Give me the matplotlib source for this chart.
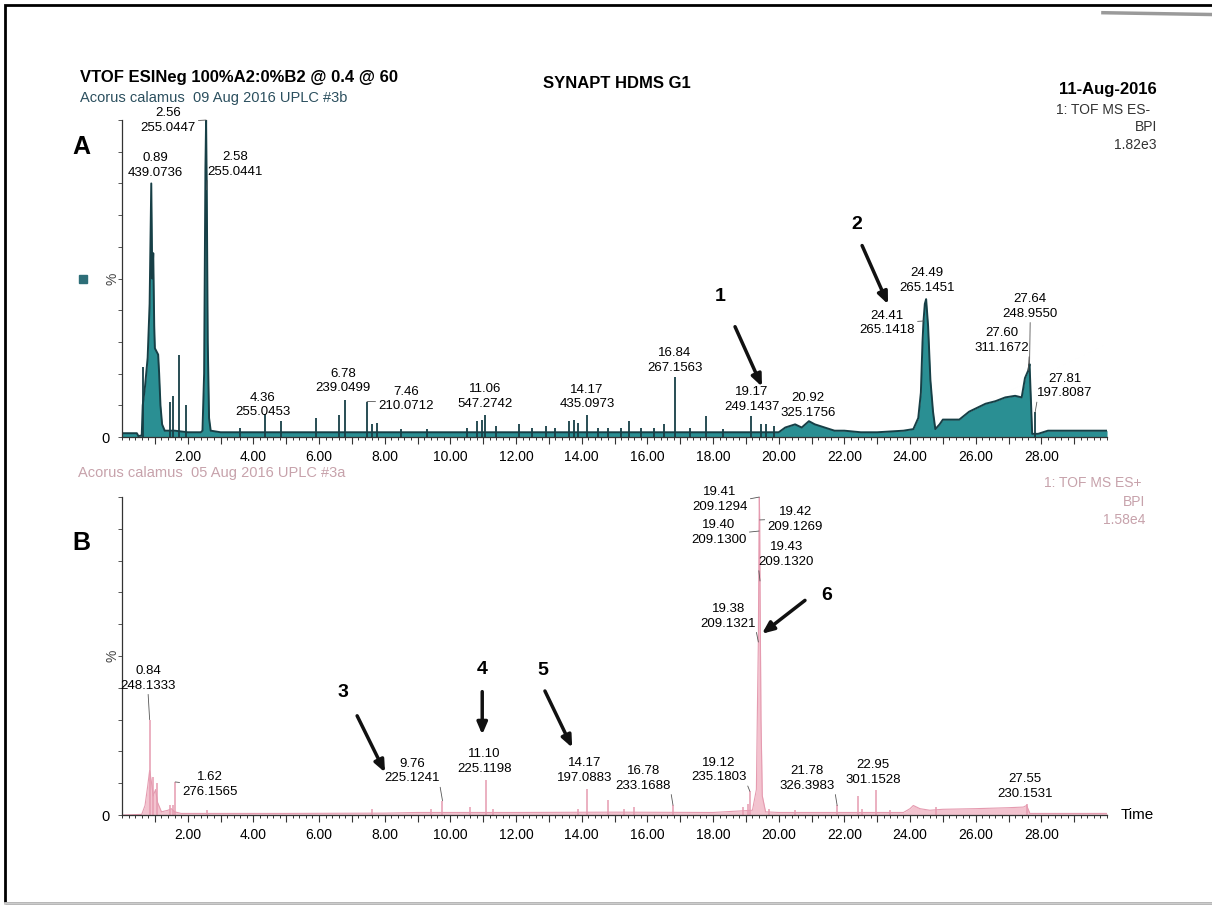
#Cromatogramas UPLC-MS de Acorus calamus (modo negativo A, modo positivo B)

import numpy as np
import matplotlib.pyplot as plt
from matplotlib.patches import Rectangle

plt.rcParams['font.family'] = ['Liberation Sans', 'DejaVu Sans']

#Datos leídos del cromatograma
#Panel A: envolvente (tiempo en min, intensidad en %)
A_env_t = [0.00, 0.45, 0.50, 0.60, 0.63, 0.70, 0.78, 0.84, 0.89, 0.92, 0.95, 0.98, 1.00, 1.05,
           1.10, 1.13, 1.17, 1.22, 1.30, 1.60, 2.00, 2.40, 2.45, 2.50, 2.54, 2.56, 2.58, 2.61,
           2.65, 2.70, 3.00, 6.00, 10.00, 14.00, 18.00, 20.00, 20.20, 20.50, 20.70, 20.92, 21.10,
           21.40, 21.70, 22.00, 22.50, 23.00, 23.80, 24.10, 24.25, 24.33, 24.38, 24.41, 24.45,
           24.49, 24.55, 24.62, 24.70, 24.77, 24.90, 25.00, 25.30, 25.50, 25.80, 26.00, 26.30,
           26.60, 26.90, 27.20, 27.40, 27.50, 27.60, 27.64, 27.68, 27.72, 27.90, 28.20, 29.00, 30.00]
A_env_h = [1.2, 1.2, 0.3, 0.5, 10, 16, 25, 42, 80, 50, 58, 35, 28, 27,
           26, 20, 10, 4, 2, 2, 1.5, 1.5, 2, 20, 85, 100, 78, 30,
           6, 2, 1.5, 1.5, 1.5, 1.5, 1.5, 1.5, 3, 4, 3, 5, 4,
           3, 2, 2, 1.5, 1.5, 2, 2.5, 6, 14, 30, 36.6, 42,
           43.5, 35, 18, 8, 2.5, 4, 5.5, 5.5, 5.5, 8, 9, 10.5,
           11.3, 12.5, 13, 12.5, 18.6, 21, 23, 12, 1, 1, 2, 2, 2]

#Panel A: picos estrechos (tiempo, %)
A_spk_t = [0.65, 1.47, 1.55, 1.74, 1.95, 3.60, 4.36, 4.85, 5.90, 6.60, 6.78, 7.46, 7.62, 7.75,
           8.50, 9.30, 10.50, 10.80, 10.95, 11.06, 11.40, 12.10, 12.50, 12.90, 13.20, 13.60,
           13.75, 13.90, 14.17, 14.50, 14.80, 15.20, 15.45, 15.80, 16.20, 16.50, 16.84, 17.30,
           17.80, 18.30, 19.17, 19.45, 19.60, 19.85, 27.81]
A_spk_h = [22, 11, 13, 26, 10, 3, 7.4, 5, 6, 7, 11.7, 11.2, 4, 4.5,
           2.5, 2.5, 3, 5, 5.5, 7.1, 3.5, 4, 3, 3.5, 3, 5,
           5.5, 4.5, 6.8, 3, 3, 3, 5, 3, 3, 4, 19, 3,
           6.5, 2.5, 6.7, 4, 4, 3.5, 7.8]

#Panel A: etiquetas (tiempo de retención, m/z, altura del punto marcado)
A_lab_rt = ['2.56', '0.89', '2.58', '4.36', '6.78', '7.46', '11.06', '14.17', '16.84',
            '19.17', '20.92', '24.41', '24.49', '27.64', '27.60', '27.81']
A_lab_mz = ['255.0447', '439.0736', '255.0441', '255.0453', '239.0499', '210.0712', '547.2742',
            '435.0973', '267.1563', '249.1437', '325.1756', '265.1418', '265.1451', '248.9550',
            '311.1672', '197.8087']
A_lab_h = [100, 80, 78, 7.4, 11.7, 11.2, 7.1, 6.8, 19, 6.7, 5, 36.6, 43.5, 23, 21, 7.8]

#Panel B: envolvente (tiempo, %)
B_env_t = [0.00, 0.60, 0.70, 0.78, 0.84, 0.90, 0.95, 1.02, 1.08, 1.20, 1.40, 1.50, 1.60, 1.80,
           5.00, 8.00, 9.00, 12.00, 15.00, 18.00, 19.20, 19.32, 19.36, 19.38, 19.40, 19.41,
           19.42, 19.43, 19.46, 19.50, 19.60, 20.00, 23.80, 24.00, 24.10, 24.30, 24.60, 25.00,
           26.00, 27.00, 27.45, 27.55, 27.65, 28.00, 30.00]
B_env_h = [0, 0.2, 3, 9, 14, 10, 6, 8, 4, 1, 1.5, 2, 1, 0.5,
           0.5, 0.6, 0.8, 0.8, 0.9, 0.8, 1.5, 8, 40, 54.4, 89.3, 100,
           92.8, 73.6, 30, 6, 1, 0.8, 0.8, 2, 3, 2, 1.5, 1.8,
           2, 2.3, 2.5, 3, 0.5, 0.5, 0.5]

#Panel B: picos estrechos (tiempo, %)
B_spk_t = [0.84, 0.95, 1.05, 1.45, 1.55, 1.62, 2.60, 7.60, 9.40, 9.76, 10.60, 11.10, 11.30,
           13.90, 14.17, 14.80, 15.30, 15.60, 16.78, 18.90, 19.05, 19.12, 19.70, 20.50, 21.78,
           22.40, 22.55, 22.95, 23.40, 24.80, 27.55]
B_spk_h = [30, 12, 10, 3, 3, 10.4, 1.5, 2, 2, 4.5, 2.5, 11, 2,
           2, 8.3, 4.7, 2, 2.5, 3.1, 2.5, 3.5, 7.5, 2, 1.5, 3,
           6, 2, 7.9, 1.5, 2.5, 3.6]

#Panel B: etiquetas
B_lab_rt = ['0.84', '1.62', '9.76', '11.10', '14.17', '16.78', '19.12', '19.41', '19.42',
            '19.40', '19.43', '19.38', '21.78', '22.95', '27.55']
B_lab_mz = ['248.1333', '276.1565', '225.1241', '225.1198', '197.0883', '233.1688', '235.1803',
            '209.1294', '209.1269', '209.1300', '209.1320', '209.1321', '326.3983', '301.1528',
            '230.1531']
B_lab_h = [30, 10.4, 4.5, 11, 8.3, 3.1, 7.5, 100, 92.8, 89.3, 73.6, 54.4, 3, 7.9, 3.6]

#Marcas del eje de tiempo
time_ticks = list(range(1, 30))
time_labels = [f"{v:.2f}" if v % 2 == 0 else "" for v in time_ticks]

#Posición de las etiquetas (centro del texto, en coordenadas de datos) y guía
A_lab_pos = [(1.40, 99.8), (1.00, 85.7), (3.44, 86.0), (4.29, 10.1), (6.73, 17.7), (8.65, 12.0),
             (11.06, 12.8), (14.16, 12.6), (16.84, 24.1), (19.19, 11.9), (20.90, 9.9),
             (23.30, 36.0), (24.52, 49.4), (27.66, 41.2), (26.80, 30.4), (28.72, 16.1)]
A_lab_rel = [(1, 0.5), None, (0, 0), None, None, (0, 0.4), None, None, None, None, None,
             (1, 0.55), None, (0.5, 0), (1, 0), (0, 0)]
B_lab_pos = [(0.79, 43.0), (2.68, 9.7), (8.83, 13.8), (11.03, 16.8), (14.10, 14.0), (15.87, 11.5),
             (18.18, 14.2), (18.21, 99.3), (20.50, 92.9), (18.18, 88.9), (20.23, 81.9),
             (18.46, 62.5), (20.87, 11.5), (22.87, 13.3), (27.50, 9.0)]
B_lab_rel = [(0.5, 0), (0, 0.55), (1, 0), None, None, (1, 0), (1, 0), (1, 0.5), (0, 0.5),
             (1, 0.5), (0, 0), (1, 0), (1, 0), None, None]

#Colores
teal_fill = '#2a8f93'
teal_line = '#173f46'
pink_fill = '#f3c3cf'
pink_line = '#e59bb0'
pink_text = '#c7a2ab'

fig = plt.figure(figsize=(12.12, 9.08), dpi=100)
axA = fig.add_axes([0.1007, 0.5187, 0.8127, 0.3491])
axB = fig.add_axes([0.1007, 0.1024, 0.8127, 0.3502])


def estilo_eje(ax):
    ax.set_xlim(0, 30)
    ax.set_ylim(0, 100)
    for s in ['top', 'right']:
        ax.spines[s].set_visible(False)
    for s in ['left', 'bottom']:
        ax.spines[s].set_linewidth(0.9)
        ax.spines[s].set_color('#333333')
    ax.set_xticks(time_ticks)
    ax.set_xticklabels(time_labels, fontsize=10)
    ax.set_xticks(np.arange(0, 30.01, 0.2), minor=True)
    ax.set_yticks(range(0, 101, 10))
    ax.set_yticklabels(['0'] + [''] * 10, fontsize=10.5)
    ax.tick_params(axis='x', which='major', length=5, width=0.8, pad=4, color='#333333')
    ax.tick_params(axis='x', which='minor', length=2.5, width=0.7, color='#333333')
    ax.tick_params(axis='y', length=3, width=0.7, pad=6, color='#555555')
    ax.text(-0.01, 0.5, '%', transform=ax.transAxes, rotation=90, fontsize=10,
            ha='center', va='center', color='#444444')


def etiquetas(ax, rts, mzs, hs, pos, rel):
    for rt, mz, h, p, r in zip(rts, mzs, hs, pos, rel):
        props = None
        if r is not None:
            props = dict(arrowstyle='-', lw=0.6, color='#555555', relpos=r, shrinkA=0, shrinkB=0)
        ax.annotate(f"{rt}\n{mz}", xy=(float(rt), h), xytext=p, textcoords='data',
                    ha='center', va='center', fontsize=9.5, linespacing=1.3,
                    arrowprops=props, annotation_clip=False)


def flecha(ax, num, tip, tail, pos_num):
    ax.annotate('', xy=tip, xytext=tail,
                arrowprops=dict(arrowstyle='-|>,head_length=0.7,head_width=0.3', lw=2.5,
                                color='#111111', shrinkA=0, shrinkB=0),
                annotation_clip=False)
    ax.text(pos_num[0], pos_num[1], num, fontsize=14, fontweight='bold', ha='center',
            va='center', clip_on=False)


#Panel A
estilo_eje(axA)
axA.fill_between(A_env_t, A_env_h, color=teal_fill, lw=0)
axA.plot(A_env_t, A_env_h, color=teal_line, lw=1.4)
axA.vlines(A_spk_t, 0, A_spk_h, color=teal_line, lw=1.3)
etiquetas(axA, A_lab_rt, A_lab_mz, A_lab_h, A_lab_pos, A_lab_rel)
flecha(axA, '1', (19.49, 15.9), (18.67, 34.8), (18.21, 44.2))
flecha(axA, '2', (23.33, 41.9), (22.54, 60.4), (22.39, 67.0))
axA.plot([-0.04], [0.5], marker='s', ms=6, color='#2d6e78', transform=axA.transAxes,
         clip_on=False)

#Panel B
estilo_eje(axB)
axB.fill_between(B_env_t, B_env_h, color=pink_fill, lw=0)
axB.plot(B_env_t, B_env_h, color=pink_line, lw=0.8)
axB.vlines(B_spk_t, 0, B_spk_h, color=pink_line, lw=1.1)
etiquetas(axB, B_lab_rt, B_lab_mz, B_lab_h, B_lab_pos, B_lab_rel)
flecha(axB, '3', (8.01, 13.4), (7.16, 31.2), (6.73, 38.4))
flecha(axB, '4', (10.97, 25.3), (10.97, 38.8), (10.97, 45.8))
flecha(axB, '5', (13.71, 21.2), (12.88, 39.0), (12.82, 45.3))
flecha(axB, '6', (19.49, 57.0), (20.80, 67.5), (21.47, 69.1))
axB.text(30.4, 0, 'Time', fontsize=11, ha='left', va='center', clip_on=False)

#Encabezados
fig.text(0.066, 0.915, 'VTOF ESINeg 100%A2:0%B2 @ 0.4 @ 60', fontsize=12, fontweight='bold',
         ha='left', va='center')
fig.text(0.066, 0.892, 'Acorus calamus  09 Aug 2016 UPLC #3b', fontsize=10.5, color='#2b4f5e',
         ha='left', va='center')
fig.text(0.509, 0.9075, 'SYNAPT HDMS G1', fontsize=12, fontweight='bold', ha='center',
         va='center')
fig.text(0.9546, 0.901, '11-Aug-2016', fontsize=12, fontweight='bold', ha='right', va='center')
fig.text(0.9488, 0.879, '1: TOF MS ES-', fontsize=10, ha='right', va='center', color='#333333')
fig.text(0.9546, 0.860, 'BPI', fontsize=10, ha='right', va='center', color='#333333')
fig.text(0.9546, 0.840, '1.82e3', fontsize=10, ha='right', va='center', color='#333333')
fig.text(0.0668, 0.838, 'A', fontsize=18, fontweight='bold', ha='center', va='center')

fig.text(0.064, 0.479, 'Acorus calamus  05 Aug 2016 UPLC #3a', fontsize=10.5, color=pink_text,
         ha='left', va='center')
fig.text(0.942, 0.468, '1: TOF MS ES+', fontsize=10, ha='right', va='center', color=pink_text)
fig.text(0.945, 0.447, 'BPI', fontsize=10, ha='right', va='center', color=pink_text)
fig.text(0.945, 0.427, '1.58e4', fontsize=10, ha='right', va='center', color=pink_text)
fig.text(0.0668, 0.402, 'B', fontsize=18, fontweight='bold', ha='center', va='center')

#Marco de la figura escaneada
fig.patches.append(Rectangle((0.004, 0.006), 1.2, 0.9885, transform=fig.transFigure,
                             fill=False, edgecolor='black', lw=2))
fig.add_artist(plt.Line2D([0.004, 1.0], [0.006, 0.006], transform=fig.transFigure,
                          color='#cccccc', lw=2))
fig.add_artist(plt.Line2D([0.91, 1.0], [0.986, 0.984], transform=fig.transFigure,
                          color='#9a9a9a', lw=2.5))

fig.savefig('out.png', dpi=100)
